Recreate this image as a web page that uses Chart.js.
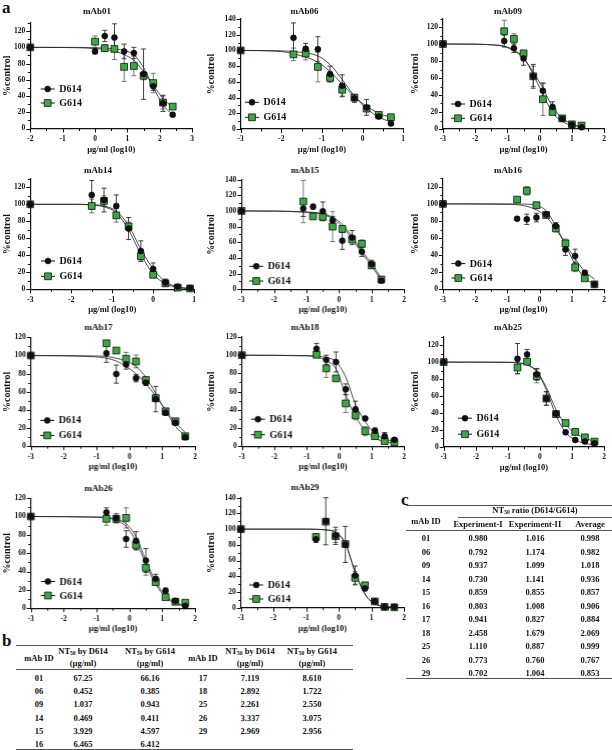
<!DOCTYPE html>
<html lang="en">
<head>
<meta charset="UTF-8" />
<title>Neutralization of D614 and G614 by mAbs</title>
<script src="https://cdn.jsdelivr.net/npm/chart.js"></script>
<style>
  body { margin: 0; width: 612px; height: 750px; position: relative; overflow: hidden; background: #fff;
         font-family: "Liberation Serif", "Times New Roman", serif; font-weight: bold; color: #111; }
  canvas { position: absolute; }
  .lbl { position: absolute; font-size: 17px; line-height: 17px; }
  .cell { position: absolute; font-size: 8.5px; line-height: 1; white-space: nowrap; transform: translate(-50%, -50%); }
  .cell sub { font-size: 5.5px; vertical-align: -1px; }
  .rule { position: absolute; height: 0; border-top: 1.2px solid #555; }
</style>
</head>
<body>
<div class="lbl" style="left:2px;top:-1px">a</div>
<div class="lbl" style="left:2px;top:632px">b</div>
<div class="lbl" style="left:401px;top:491px">c</div>

<script>
// panels
const mAbs = ["mAb01", "mAb06", "mAb09", "mAb14", "mAb15", "mAb16", "mAb17", "mAb18", "mAb25", "mAb26", "mAb29"];
const xMin = [-2, -3, -3, -3, -3, -3, -3, -3, -3, -3, -3];
const xMax = [3, 1, 2, 1, 2, 2, 2, 2, 2, 2, 2];
const yMax = [130, 140, 130, 130, 140, 130, 120, 120, 130, 120, 140];

// log10 dose (µg/ml) of the measured points
const doses = [
  [-2, 0, 0.3, 0.6, 0.9, 1.2, 1.5, 1.8, 2.1, 2.4],
  [-3, -1.7, -1.4, -1.1, -0.8, -0.5, -0.2, 0.1, 0.4, 0.7],
  [-3, -1.1, -0.8, -0.5, -0.2, 0.1, 0.4, 0.7, 1.0, 1.3],
  [-3, -1.5, -1.2, -0.9, -0.6, -0.3, 0, 0.3, 0.6, 0.9],
  [-3, -1.1, -0.8, -0.5, -0.2, 0.1, 0.4, 0.7, 1.0, 1.3],
  [-3, -0.7, -0.4, -0.1, 0.2, 0.5, 0.8, 1.1, 1.4, 1.7],
  [-3, -0.7, -0.4, -0.1, 0.2, 0.5, 0.8, 1.1, 1.4, 1.7],
  [-3, -0.7, -0.4, -0.1, 0.2, 0.5, 0.8, 1.1, 1.4, 1.7],
  [-3, -0.7, -0.4, -0.1, 0.2, 0.5, 0.8, 1.1, 1.4, 1.7],
  [-3, -0.7, -0.4, -0.1, 0.2, 0.5, 0.8, 1.1, 1.4, 1.7],
  [-3, -0.7, -0.4, -0.1, 0.2, 0.5, 0.8, 1.1, 1.4, 1.7]
];
const d614 = [
  [100, 95, 114, 112, 95, 93, 67, 52, 31, 17],
  [100, 116, 102, 101.5, 70, 55, 39, 27.5, 16, 7],
  [100, 103.5, 95, 83, 62, 45, 26, 12, 5, 2],
  [100, 111, 105, 98, 71.5, 45, 24, 8, 3, 1.5],
  [100, 103, 105.5, 99.5, 88, 62, 66, 48, 32, 11],
  [100, 82.6, 82, 84, 87.6, 74, 46.7, 39, 19.5, 5.8],
  [100, 102.5, 79.5, 90, 75, 70, 52, 37, 26, 10],
  [100, 107, 95, 92.5, 62.5, 40.5, 30.5, 17, 11, 7],
  [100, 104, 109, 85.5, 57, 39, 17, 8, 6, 4],
  [100, 104.5, 98, 75.5, 73.5, 52, 32, 19, 8, 2.5],
  [100, 87, 110, 91.5, 80.5, 41, 24.5, 8, 1, 1]
];
const d614Sd = [
  [0, 3, 7, 17, 9, 7, 31, 5, 10, 2],
  [0, 19, 7, 16, 10, 14, 5, 10, 3, 2],
  [0, 7, 5, 8, 14, 9, 6, 3, 2, 1],
  [0, 17, 14, 13, 13, 12, 7, 4, 1, 1],
  [0, 10, 3, 12, 5, 11, 9, 6, 5, 2],
  [0, 2, 6, 5, 2, 4, 7, 8, 2, 1],
  [0, 10, 10, 5, 4, 3, 14, 3, 3, 3],
  [0, 6, 5, 11, 6, 9, 2, 3, 4, 2],
  [0, 18, 6, 7, 8, 3, 2, 2, 2, 1],
  [0, 5, 5, 9, 10, 13, 5, 3, 2, 1],
  [0, 4, 30, 11, 23, 12, 3, 2, 1, 1]
];
const g614 = [
  [100, 107, 99, 98, 76, 77, 65, 56, 32, 27],
  [100, 95, 96, 79, 65, 50, 40, 26, 18, 15],
  [100, 115, 106, 89, 62, 35, 20, 12.5, 5.5, 4],
  [100, 98, 104, 87, 74, 39, 17, 7, 2, 1],
  [100, 112, 93, 92.5, 80, 77, 63.5, 58, 30.5, 12.5],
  [100, 105, 115.3, 98.5, 87, 71.3, 53.8, 25.7, 12.9, 5.8],
  [100, 113.5, 105.5, 96.5, 93.5, 73, 53, 38.5, 27.5, 11],
  [100, 100.5, 85.5, 74.5, 47, 34, 16.5, 11, 5.5, 4.5],
  [100, 93.5, 100.5, 83.5, 57, 38.5, 28, 17.5, 11, 6],
  [100, 97.5, 97.5, 98.5, 69, 44, 28.5, 12, 7, 6],
  [100, 90, 109.5, 91, 81, 38, 28.5, 8, 1, 0.5]
];
const g614Sd = [
  [0, 7, 4, 13, 18, 12, 5, 12, 8, 2],
  [0, 8, 8, 19, 5, 8, 4, 4, 3, 3],
  [0, 13, 6, 3, 12, 19, 3, 2, 2, 1],
  [0, 8, 6, 8, 5, 6, 2, 2, 1, 1],
  [0, 27, 3, 4, 19, 4, 3, 5, 3, 2],
  [0, 2, 5, 3, 2, 4, 5, 5, 2, 1],
  [0, 3, 3, 7, 7, 3, 4, 3, 3, 3],
  [0, 3, 10, 3, 10, 5, 5, 3, 2, 1],
  [0, 7, 3, 8, 8, 3, 2, 3, 2, 2],
  [0, 7, 3, 11, 5, 8, 3, 2, 2, 1],
  [0, 4, 3, 8, 3, 8, 3, 2, 1, 1]
];

// fitted curves
const fitX = [
  [-2, -1, 0, 0.5, 0.9, 1.2, 1.5, 1.8, 2.1, 2.4],
  [-3, -2, -1.5, -1.1, -0.8, -0.5, -0.2, 0.1, 0.4, 0.7],
  [-3, -2, -1.5, -1.1, -0.8, -0.5, -0.2, 0.1, 0.4, 0.7, 1.0, 1.3],
  [-3, -2, -1.5, -1.2, -0.9, -0.6, -0.3, 0, 0.3, 0.6, 0.9],
  [-3, -2, -1.1, -0.5, -0.2, 0.1, 0.4, 0.7, 1.0, 1.3],
  [-3, -1, -0.5, -0.1, 0.2, 0.5, 0.8, 1.1, 1.4, 1.7],
  [-3, -1, -0.7, -0.4, -0.1, 0.2, 0.5, 0.8, 1.1, 1.4, 1.7],
  [-3, -1, -0.7, -0.4, -0.1, 0.2, 0.5, 0.8, 1.1, 1.4, 1.7],
  [-3, -1, -0.7, -0.4, -0.1, 0.2, 0.5, 0.8, 1.1, 1.4, 1.7],
  [-3, -1, -0.7, -0.4, -0.1, 0.2, 0.5, 0.8, 1.1, 1.4, 1.7],
  [-3, -1, -0.7, -0.4, -0.1, 0.2, 0.5, 0.8, 1.1, 1.4, 1.7]
];
const fitD614 = [
  [100, 100, 99.5, 98.5, 96, 91, 75, 51, 29, 17],
  [100, 99.5, 97.5, 93, 82, 63, 42, 26, 15, 9],
  [100, 99.8, 99, 97, 92, 83, 67, 48, 26, 13, 6, 3],
  [100, 100, 99.5, 98, 92, 75, 47, 24, 9, 3, 1],
  [100, 99.8, 98.5, 95.5, 90, 80, 64, 46, 30, 11],
  [100, 99.5, 98, 93, 85, 71, 53, 36, 21, 12],
  [100, 98.5, 97, 94, 88, 80, 69, 55, 40, 26, 15],
  [100, 99.6, 99, 97.5, 93, 76, 46, 27, 14, 8, 5],
  [100, 99.8, 99.3, 97, 89, 67, 37, 17, 8, 4, 2],
  [100, 99.5, 99, 97, 92, 78, 52, 29, 14, 6, 3],
  [100, 100, 99.8, 99, 96, 82, 45, 17, 5, 1.5, 0.5]
];
const fitG614 = [
  [100, 99.8, 98.5, 96, 91, 84, 70, 53, 37, 26],
  [100, 98.5, 93, 85, 73, 57, 41, 29, 20, 15],
  [100, 99.8, 99, 97.5, 93, 84, 64, 41, 19, 9, 4, 2],
  [100, 100, 99.3, 97, 90, 70, 41, 18, 6.5, 2, 0.7],
  [100, 99.8, 98.8, 96.5, 92, 83, 67, 49, 33, 14],
  [100, 100, 99.8, 98.3, 92, 74, 52, 29, 13, 6],
  [100, 99.5, 99, 97, 94, 88, 76, 58, 39, 22, 11],
  [100, 99.2, 98, 94, 85, 56, 33, 17, 9, 5, 3.5],
  [100, 99.7, 99, 96.5, 89, 70, 44, 26, 16, 10, 6.5],
  [100, 99.3, 98.5, 96, 89, 73, 48, 26, 12, 5, 2.5],
  [100, 100, 99.8, 99, 96, 81.5, 45.5, 17.5, 5, 1.5, 0.5]
];

// tables b and c
const mAbIds = ["01", "06", "09", "14", "15", "16", "17", "18", "25", "26", "29"];
const nt50D614 = ["67.25", "0.452", "1.037", "0.469", "3.929", "6.465", "7.119", "2.892", "2.261", "3.337", "2.969"];
const nt50G614 = ["66.16", "0.385", "0.943", "0.411", "4.597", "6.412", "8.610", "1.722", "2.550", "3.075", "2.956"];
const ratioExpI = ["0.980", "0.792", "0.937", "0.730", "0.859", "0.803", "0.941", "2.458", "1.110", "0.773", "0.702"];
const ratioExpII = ["1.016", "1.174", "1.099", "1.141", "0.855", "1.008", "0.827", "1.679", "0.887", "0.760", "1.004"];
const ratioAvg = ["0.998", "0.982", "1.018", "0.936", "0.857", "0.906", "0.884", "2.069", "0.999", "0.767", "0.853"];

// page geometry: [axis left, axis right, top of y range, y=0] in px
const axisBox = [
  [30.3, 194.3, 23, 128.5], [240.7, 405, 19, 129], [443, 608, 18.5, 129],
  [30.3, 196, 178.5, 289], [241.3, 405.7, 179.3, 289], [443, 608, 178, 289],
  [30.7, 196.7, 337.7, 446.5], [241.7, 405.7, 337.3, 446.5], [443.7, 608, 337, 447],
  [30.7, 196.7, 497.7, 607.7], [240.7, 405.7, 497.7, 607.7]
];
const titleY = [12, 12, 12, 170.7, 170.7, 170.7, 328.3, 328.3, 328.3, 488.5, 488];
// legend: [offset from y axis, D614 px above x axis, G614 px above x axis]
const legendPos = [
  [10.4, 39.5, 25.5], [4.3, 26.7, 11.7], [8, 25, 10.7],
  [10.7, 28.3, 13], [7.7, 23, 8.3], [8.3, 25.7, 11.3],
  [9.3, 25.8, 10.8], [9, 27, 11.5], [14.3, 28.5, 12.5],
  [10, 26.7, 12.7], [8.3, 22.7, 8.7]
];
const colLeft = [0, 204, 408];

Chart.defaults.font.family = '"Liberation Serif", "Times New Roman", serif';
Chart.defaults.font.weight = 'bold';
Chart.defaults.color = '#111';

const tickMarks = {
  id: 'tickMarks',
  afterDraw(chart) {
    const {ctx, scales: {x, y}, chartArea: a} = chart;
    ctx.save();
    ctx.strokeStyle = '#111';
    ctx.lineWidth = 1;
    ctx.beginPath();
    for (let v = x.min; v <= x.max + 1e-9; v += 0.5) {
      const px = Math.round(x.getPixelForValue(v)) + 0.5;
      ctx.moveTo(px, a.bottom);
      ctx.lineTo(px, a.bottom + (Number.isInteger(v) ? 4 : 2.5));
    }
    for (let v = 0; v <= y.max + 1e-9; v += 10) {
      const py = Math.round(y.getPixelForValue(v)) + 0.5;
      ctx.moveTo(a.left, py);
      ctx.lineTo(a.left - (v % 20 === 0 ? 4 : 2.5), py);
    }
    ctx.stroke();
    ctx.restore();
  }
};

const errorBars = {
  id: 'errorBars',
  beforeDatasetsDraw(chart) {
    const {ctx, scales: {x, y}} = chart;
    chart.data.datasets.forEach(ds => {
      if (!ds.sd) return;
      ctx.save();
      ctx.strokeStyle = ds.barColor;
      ctx.lineWidth = 0.9;
      ctx.beginPath();
      ds.data.forEach((p, k) => {
        const e = ds.sd[k];
        if (!e) return;
        const px = x.getPixelForValue(p.x);
        const y1 = y.getPixelForValue(p.y + e), y2 = y.getPixelForValue(p.y - e);
        ctx.moveTo(px, y1); ctx.lineTo(px, y2);
        ctx.moveTo(px - 2.5, y1); ctx.lineTo(px + 2.5, y1);
        ctx.moveTo(px - 2.5, y2); ctx.lineTo(px + 2.5, y2);
      });
      ctx.stroke();
      ctx.restore();
    });
  }
};

const insideLegend = {
  id: 'insideLegend',
  afterDraw(chart, args, opts) {
    const {ctx, chartArea: a} = chart;
    const x0 = a.left + opts.dx;
    chart.data.datasets.filter(ds => ds.sd).forEach(ds => {
      const y = a.bottom - opts.up[ds.label];
      ctx.save();
      ctx.strokeStyle = '#111';
      ctx.lineWidth = 1;
      ctx.beginPath(); ctx.moveTo(x0, y); ctx.lineTo(x0 + 14, y); ctx.stroke();
      ctx.fillStyle = ds.backgroundColor;
      ctx.lineWidth = ds.borderWidth;
      Chart.helpers.drawPoint(ctx, {pointStyle: ds.pointStyle, radius: ds.pointRadius, rotation: 0, borderWidth: ds.borderWidth}, x0 + 7, y);
      ctx.fillStyle = '#111';
      ctx.font = 'bold 10px "Liberation Serif", serif';
      ctx.textBaseline = 'middle';
      ctx.fillText(ds.label, x0 + 18.5, y + 0.5);
      ctx.restore();
    });
  }
};

const pts = (xs, ys) => xs.map((v, k) => ({x: v, y: ys[k]}));

mAbs.forEach((name, i) => {
  const [L, R, T, B] = axisBox[i];
  const cx = colLeft[i % 3];
  const cy = titleY[i] - 6;
  const right = Math.min(612, R + 6);
  const cw = right - cx;
  const ch = Math.round(B - cy + 26);
  const cv = document.createElement('canvas');
  cv.width = cw; cv.height = ch;
  cv.style.left = cx + 'px'; cv.style.top = cy + 'px';
  cv.style.width = cw + 'px'; cv.style.height = ch + 'px';
  document.body.appendChild(cv);

  const curve = (ys) => ({
    data: pts(fitX[i], ys), showLine: true, pointRadius: 0, borderColor: '#222',
    borderWidth: 0.8, cubicInterpolationMode: 'monotone', order: 3, clip: false
  });

  new Chart(cv, {
    type: 'scatter',
    data: {
      datasets: [
        curve(fitD614[i]),
        curve(fitG614[i]),
        {
          label: 'G614', data: pts(doses[i], g614[i]), sd: g614Sd[i], barColor: '#6a6a6a',
          pointStyle: 'rect', pointRadius: 4.8, backgroundColor: '#3aa843', borderColor: '#111',
          borderWidth: 0.8, order: 2, clip: false
        },
        {
          label: 'D614', data: pts(doses[i], d614[i]), sd: d614Sd[i], barColor: '#2a2a2a',
          pointStyle: 'circle', pointRadius: 3, backgroundColor: '#111', borderColor: '#000',
          borderWidth: 0.5, order: 1, clip: false
        }
      ]
    },
    options: {
      responsive: false,
      animation: false,
      devicePixelRatio: 1,
      layout: {padding: {left: 0, top: 0, right: right - R, bottom: 0}},
      plugins: {
        legend: {display: false},
        tooltip: {enabled: false},
        title: {
          display: true, text: name, color: '#111',
          font: {size: 9, weight: 'bold', lineHeight: 12 / 9},
          padding: {top: 0, bottom: T - (cy + 12)}
        },
        insideLegend: {dx: legendPos[i][0], up: {D614: legendPos[i][1], G614: legendPos[i][2]}}
      },
      scales: {
        x: {
          type: 'linear', min: xMin[i], max: xMax[i],
          grid: {display: false, drawTicks: false},
          border: {display: true, color: '#111', width: 1.2},
          ticks: {stepSize: 1, padding: 6, font: {size: 7.5, weight: 'bold'}, color: '#111', maxRotation: 0},
          title: {display: true, text: 'µg/ml (log10)', font: {size: 8.5, weight: 'bold'}, padding: 0, color: '#111'},
          afterFit: s => { s.height = ch - (B - cy); }
        },
        y: {
          min: 0, max: yMax[i],
          grid: {display: false, drawTicks: false},
          border: {display: true, color: '#111', width: 1.2},
          ticks: {stepSize: 20, includeBounds: false, padding: 5, font: {size: 7.5, weight: 'bold'}, color: '#111'},
          title: {display: true, text: '%control', font: {size: 10, weight: 'bold'}, padding: {top: 1, bottom: 0}, color: '#111'},
          afterFit: s => { s.width = L - cx; }
        }
      }
    },
    plugins: [errorBars, tickMarks, insideLegend]
  });
});

// tables
function put(html, x, y) {
  const d = document.createElement('div');
  d.className = 'cell';
  d.innerHTML = html;
  d.style.left = x + 'px';
  d.style.top = y + 'px';
  document.body.appendChild(d);
}
function rule(x1, x2, y) {
  const d = document.createElement('div');
  d.className = 'rule';
  d.style.left = x1 + 'px';
  d.style.width = (x2 - x1) + 'px';
  d.style.top = y + 'px';
  document.body.appendChild(d);
}

// b
const bCols = [39, 83, 150, 203, 250, 312];
rule(16, 353, 645); rule(16, 353, 669); rule(16, 353, 749);
[0, 3].forEach(c => {
  put('mAb ID', bCols[c], 658);
  put('NT<sub>50</sub> by D614', bCols[c + 1], 652);
  put('(µg/ml)', bCols[c + 1], 663);
  put('NT<sub>50</sub> by G614', bCols[c + 2], 652);
  put('(µg/ml)', bCols[c + 2], 663);
});
mAbIds.forEach((id, k) => {
  const c = k < 6 ? 0 : 3;
  const y = 678 + (k < 6 ? k : k - 6) * 13.2;
  put(id, bCols[c], y);
  put(nt50D614[k], bCols[c + 1], y);
  put(nt50G614[k], bCols[c + 2], y);
});

// c
const cCols = [426, 478, 535, 590];
rule(406, 612, 505); rule(458, 612, 517); rule(406, 612, 530); rule(406, 612, 678);
put('NT<sub>50</sub> ratio (D614/G614)', 535, 511);
put('mAb ID', cCols[0], 521);
put('Experiment-I', cCols[1], 524);
put('Experiment-II', cCols[2], 524);
put('Average', cCols[3], 524);
mAbIds.forEach((id, k) => {
  const y = 538 + k * 13.5;
  put(id, cCols[0], y);
  put(ratioExpI[k], cCols[1], y);
  put(ratioExpII[k], cCols[2], y);
  put(ratioAvg[k], cCols[3], y);
});
</script>
</body>
</html>
